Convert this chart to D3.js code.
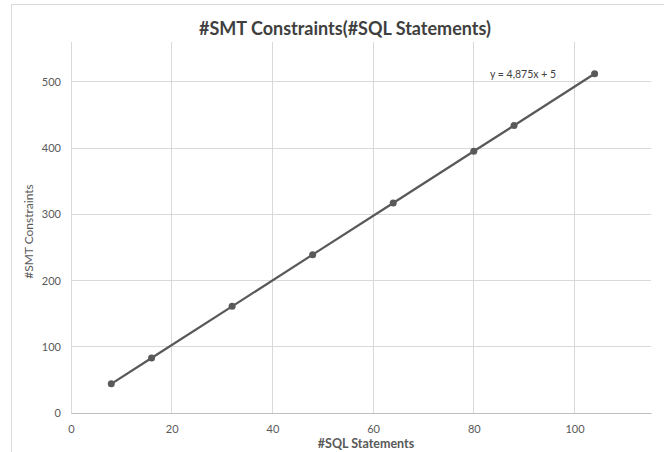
<!DOCTYPE html>
<html><head><meta charset="utf-8">
<script src="https://cdn.jsdelivr.net/npm/d3@7"></script>
<style>body{margin:0;background:#fff;} svg{display:block;}</style>
</head><body>
<svg id="c" width="664" height="452"></svg>
<script>
const xValues = [8, 16, 32, 48, 64, 80, 88, 104];
const yValues = [44, 83, 161, 239, 317, 395, 434, 512];
const xTicks = [0, 20, 40, 60, 80, 100];
const yTicks = [0, 100, 200, 300, 400, 500];
const titleText = "#SMT Constraints(#SQL Statements)";
const xTitle = "#SQL Statements";
const yTitle = "#SMT Constraints";
const trendLabel = "y = 4,875x + 5";

const svg = d3.select("#c");
const font = "Lato, 'Open Sans', sans-serif";
const L = 71, R = 651, T = 42, B = 413;
const x = d3.scaleLinear().domain([0, 115.2]).range([L, R]);
const y = d3.scaleLinear().domain([0, 560]).range([B, T]);

// chart border
svg.append("rect").attr("x", 11.5).attr("y", 4.5).attr("width", 700).attr("height", 500)
  .attr("fill", "none").attr("stroke", "#d9d9d9");

// gridlines
svg.append("g").selectAll("line").data(xTicks).join("line")
  .attr("x1", d => x(d)).attr("x2", d => x(d)).attr("y1", T).attr("y2", B)
  .attr("stroke", "#d9d9d9").attr("stroke-width", 1).attr("shape-rendering", "crispEdges");
svg.append("g").selectAll("line").data(yTicks).join("line")
  .attr("x1", L).attr("x2", R).attr("y1", d => y(d)).attr("y2", d => y(d))
  .attr("stroke", "#d9d9d9").attr("stroke-width", 1).attr("shape-rendering", "crispEdges");

// axes (labels)
const xAxis = svg.append("g").attr("transform", `translate(0,${B})`)
  .call(d3.axisBottom(x).tickValues(xTicks).tickSize(0).tickPadding(12));
xAxis.select(".domain").attr("stroke", "#bfbfbf");
xAxis.selectAll("text").attr("fill", "#595959").style("font", `11px ${font}`);
const yAxis = svg.append("g").attr("transform", `translate(${L},0)`)
  .call(d3.axisLeft(y).tickValues(yTicks).tickSize(0).tickPadding(10));
yAxis.select(".domain").remove();
yAxis.selectAll("text").attr("fill", "#595959").style("font", `11px ${font}`);

// line
const pts = xValues.map((v, i) => [v, yValues[i]]);
svg.append("path").datum(pts)
  .attr("d", d3.line().x(d => x(d[0])).y(d => y(d[1])))
  .attr("fill", "none").attr("stroke", "#595959").attr("stroke-width", 2.25);
svg.append("g").selectAll("circle").data(pts).join("circle")
  .attr("cx", d => x(d[0])).attr("cy", d => y(d[1])).attr("r", 3.5)
  .attr("fill", "#595959");

// titles
svg.append("text").attr("x", 345).attr("y", 35).attr("text-anchor", "middle")
  .attr("fill", "#404040").style("font", `bold 18px ${font}`).text(titleText);
svg.append("text").attr("x", 366).attr("y", 448).attr("text-anchor", "middle")
  .attr("fill", "#595959").style("font", `bold 12.5px ${font}`).text(xTitle);
svg.append("text").attr("transform", `translate(33,${(T + B) / 2 + 4}) rotate(-90)`)
  .attr("text-anchor", "middle").attr("fill", "#595959").style("font", `12px ${font}`).text(yTitle);

// trendline label
svg.append("text").attr("x", 523).attr("y", 78).attr("text-anchor", "middle")
  .attr("fill", "#404040").style("font", `10.5px ${font}`).text(trendLabel);
</script>
</body></html>
